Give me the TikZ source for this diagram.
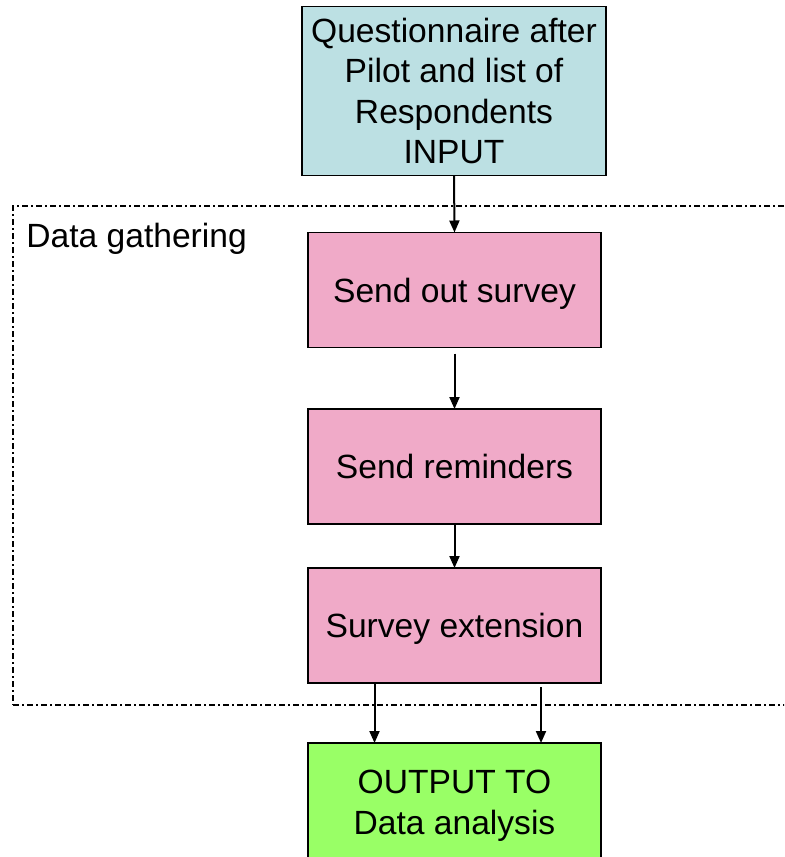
\documentclass[tikz,border=0pt]{standalone}
\usepackage{fontspec}
\setmainfont{Liberation Sans}
\usetikzlibrary{arrows.meta}
\definecolor{inblue}{RGB}{188,224,227}
\definecolor{steppink}{RGB}{240,170,200}
\definecolor{outgreen}{RGB}{153,255,102}
\tikzset{
  box/.style={draw=black, line width=0.8pt, inner sep=0pt, outer sep=0pt,
    align=center, font=\fontsize{16.8pt}{20.25pt}\selectfont},
  inbox/.style={box, fill=inblue, minimum width=152pt, minimum height=84.5pt,
    text depth=0pt},
  stepbox/.style={box, fill=steppink, minimum width=146.5pt, minimum height=57.5pt,
    text depth=0pt},
  outbox/.style={box, fill=outgreen, minimum width=146.5pt, minimum height=59.5pt,
    text depth=0pt},
  flow/.style={-{Triangle[length=6pt,width=5pt]}, line width=1pt},
  groupframe/.style={draw, line width=0.75pt, inner sep=0pt, outer sep=0pt,
    dash pattern=on 3pt off 1.5pt on 1pt off 1.5pt},
  grouplabel/.style={inner sep=0pt, font=\fontsize{16.8pt}{20.25pt}\selectfont},
}
\begin{document}
\begin{tikzpicture}[x=0.5pt, y=-0.5pt]
  \clip (0,0) rectangle (784,857);

  % dash-dotted frame around the data gathering steps
  \node[groupframe, minimum width=393.5pt, minimum height=249.5pt, anchor=north west]
    (grp) at (13,206) {};
  \node[grouplabel, anchor=base west] (grplabel) at (26,247) {Data gathering};

  % process boxes
  \node[inbox] (inp) at (454,91)
    {Questionnaire after\\Pilot and list of\\Respondents\\INPUT};
  \node[stepbox] (s1) at (454.5,290) {Send out survey};
  \node[stepbox] (s2) at (454.5,466.5) {Send reminders};
  \node[stepbox] (s3) at (454.5,625.5) {Survey extension};
  \node[outbox] (out) at (454.5,802.5) {OUTPUT TO\\Data analysis};

  % connectors
  \draw[flow] (inp.south) -- (s1.north);
  \draw[flow] ([yshift=-3pt]s1.south) -- (s2.north);
  \draw[flow] (s2.south) -- (s3.north);
  \draw[flow] ([xshift=-40pt]s3.south) -- ([xshift=-40pt]out.north);
  \draw[flow] ([xshift=43.25pt,yshift=-2pt]s3.south) -- ([xshift=43.25pt]out.north);
\end{tikzpicture}
\end{document}
